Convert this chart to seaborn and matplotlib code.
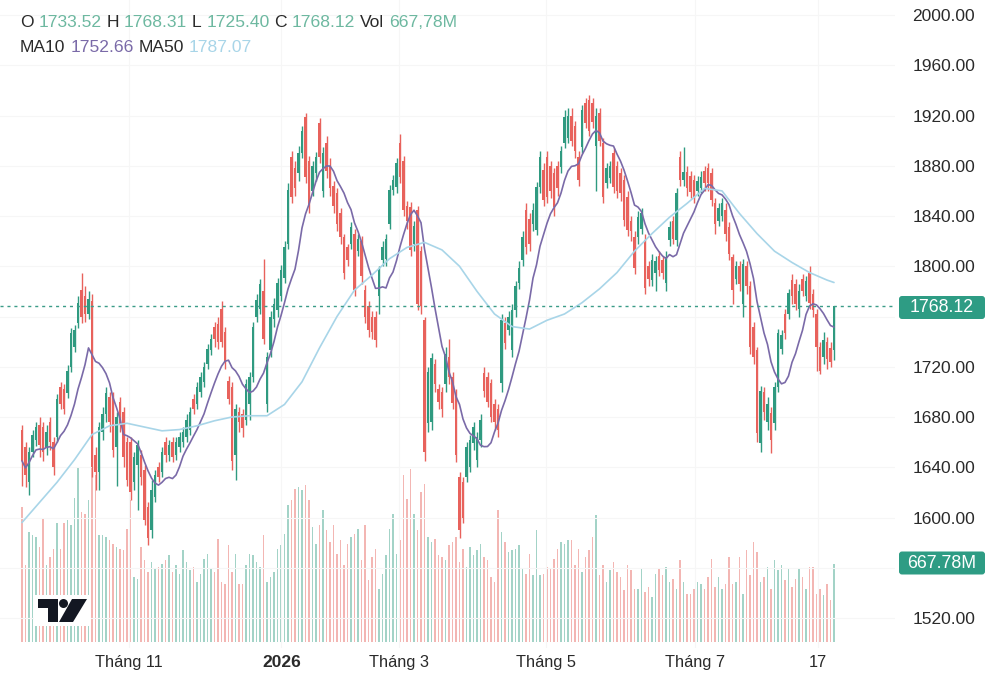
import matplotlib
matplotlib.use("Agg")
import numpy as np
import pandas as pd
import matplotlib.pyplot as plt
import seaborn as sns
from matplotlib.patches import FancyBboxPatch, Polygon, Circle, Rectangle

# ---------------- data ----------------
opens = [1670,1656,1628,1652,1662,1674,1672,1655,1676,1660,1664,1704,1702,1699,1720,1736,1755,1781,1776,1762,
         1772,1650,1636,1668,1682,1696,1696,1656,1692,1684,1660,1660,1628,1642,1650,1638,1608,1590,1616,1640,
         1636,1660,1650,1660,1650,1656,1660,1664,1670,1694,1690,1700,1708,1722,1733,1752,1754,1766,1748,1709,
         1704,1650,1684,1682,1678,1690,1712,1760,1766,1780,1690,1733,1758,1765,1776,1791,1818,1887,1878,1874,
         1890,1919,1884,1860,1874,1914,1860,1898,1880,1864,1858,1842,1823,1815,1818,1826,1812,1820,1781,1768,
         1760,1760,1776,1805,1806,1834,1861,1863,1898,1884,1848,1847,1818,1845,1812,1757,1675,1676,1722,1702,
         1700,1706,1728,1712,1698,1632,1628,1632,1640,1659,1646,1662,1715,1712,1707,1690,1686,1707,1755,1749,
         1733,1765,1787,1805,1845,1838,1834,1829,1863,1877,1887,1880,1874,1880,1879,1898,1902,1920,1912,1887,
         1895,1930,1932,1930,1896,1922,1898,1866,1870,1890,1880,1874,1869,1855,1836,1823,1823,1830,1821,1800,
         1789,1795,1808,1805,1787,1821,1836,1821,1887,1869,1875,1872,1869,1860,1862,1876,1878,1874,1850,1836,
         1840,1845,1831,1807,1790,1800,1770,1800,1784,1752,1733,1659,1700,1676,1683,1675,1704,1734,1762,1762,
         1789,1786,1766,1790,1776,1795,1778,1762,1736,1728,1740,1735,1733.52]
highs = [1674,1660,1656,1670,1676,1680,1676,1674,1680,1664,1698,1708,1706,1721,1751,1753,1776,1795,1784,1780,
         1778,1656,1676,1688,1704,1700,1700,1684,1696,1688,1664,1664,1652,1662,1654,1642,1612,1630,1638,1644,
         1656,1664,1662,1664,1664,1668,1672,1682,1688,1698,1708,1716,1724,1738,1746,1756,1760,1772,1752,1713,
         1708,1690,1688,1686,1710,1716,1756,1778,1790,1806,1732,1764,1775,1791,1801,1820,1866,1892,1884,1896,
         1912,1922,1888,1884,1891,1918,1895,1904,1886,1868,1862,1846,1826,1818,1835,1830,1826,1824,1785,1772,
         1764,1764,1800,1820,1826,1865,1873,1886,1905,1888,1852,1851,1836,1848,1816,1760,1720,1731,1726,1706,
         1704,1736,1742,1716,1702,1636,1632,1660,1666,1676,1668,1682,1720,1716,1710,1694,1690,1762,1760,1764,
         1770,1788,1804,1828,1850,1842,1850,1867,1892,1882,1892,1884,1878,1884,1896,1924,1926,1926,1916,1892,
         1928,1934,1936,1934,1926,1926,1902,1882,1884,1894,1884,1878,1873,1860,1840,1828,1844,1846,1826,1804,
         1810,1808,1812,1808,1812,1836,1840,1862,1892,1895,1880,1876,1873,1872,1876,1880,1882,1878,1854,1850,
         1854,1850,1835,1810,1804,1804,1806,1804,1788,1756,1736,1705,1704,1696,1688,1708,1750,1749,1766,1782,
         1794,1790,1786,1794,1792,1800,1782,1766,1740,1748,1744,1740,1768.31]
lows = [1625,1624,1618,1648,1657,1648,1645,1650,1654,1634,1660,1686,1682,1695,1716,1732,1751,1755,1756,1758,
        1632,1622,1622,1662,1676,1668,1648,1625,1668,1640,1625,1614,1622,1606,1626,1594,1578,1584,1612,1628,
        1632,1644,1645,1644,1646,1652,1656,1660,1666,1682,1686,1696,1704,1718,1729,1736,1734,1736,1718,1690,
        1638,1630,1668,1664,1674,1678,1708,1756,1762,1738,1684,1728,1752,1760,1772,1787,1814,1850,1856,1868,
        1886,1866,1842,1856,1868,1882,1855,1870,1856,1842,1828,1818,1790,1800,1814,1776,1808,1786,1755,1744,
        1742,1736,1762,1800,1800,1830,1857,1858,1866,1840,1830,1808,1812,1765,1762,1645,1668,1670,1700,1686,
        1680,1700,1706,1686,1644,1584,1596,1628,1636,1654,1640,1656,1696,1688,1676,1670,1664,1700,1734,1745,
        1728,1760,1782,1800,1810,1812,1828,1825,1858,1848,1850,1854,1840,1856,1874,1894,1898,1896,1886,1864,
        1890,1910,1904,1910,1860,1896,1850,1862,1866,1858,1854,1852,1832,1824,1820,1794,1818,1826,1778,1784,
        1784,1780,1792,1790,1780,1816,1818,1816,1864,1864,1856,1854,1850,1856,1858,1860,1860,1848,1826,1832,
        1836,1820,1805,1770,1786,1780,1760,1778,1730,1722,1660,1652,1678,1670,1651,1670,1700,1730,1742,1758,
        1770,1765,1760,1776,1772,1766,1760,1717,1714,1722,1718,1720,1725.40]
closes = [1645,1634,1652,1666,1672,1658,1652,1668,1660,1640,1694,1690,1686,1717,1747,1749,1771,1760,1762,1774,
          1640,1636,1672,1682,1699,1676,1654,1680,1674,1648,1630,1620,1648,1658,1632,1598,1584,1622,1634,1632,
          1652,1650,1658,1648,1660,1664,1668,1678,1684,1686,1704,1712,1720,1734,1742,1742,1740,1740,1724,1694,
          1645,1686,1676,1671,1706,1712,1752,1773,1786,1742,1728,1760,1770,1787,1797,1815,1861,1855,1862,1890,
          1908,1871,1847,1880,1887,1887,1890,1876,1862,1848,1834,1823,1795,1805,1831,1781,1822,1792,1760,1749,
          1748,1741,1797,1815,1822,1861,1869,1882,1871,1845,1836,1813,1832,1770,1768,1652,1716,1727,1706,1692,
          1686,1730,1712,1691,1650,1590,1600,1656,1662,1672,1664,1678,1701,1692,1680,1676,1670,1757,1739,1760,
          1765,1784,1799,1823,1815,1818,1845,1863,1887,1853,1855,1860,1847,1862,1892,1919,1920,1900,1892,1869,
          1924,1914,1908,1915,1920,1900,1855,1878,1880,1863,1860,1858,1837,1829,1828,1799,1839,1842,1783,1790,
          1805,1804,1797,1795,1807,1831,1822,1858,1869,1875,1862,1859,1855,1868,1871,1866,1866,1853,1834,1846,
          1850,1826,1810,1781,1800,1786,1802,1784,1736,1728,1667,1701,1684,1690,1662,1704,1747,1745,1747,1779,
          1776,1770,1780,1780,1788,1771,1765,1736,1717,1741,1726,1724,1768.12]
volumes = [1156,659,942,916,899,813,1061,659,728,796,1019,796,1019,1044,1002,1233,1498,1113,1096,1216,
           1515,1430,916,916,899,873,839,813,796,788,967,1216,556,539,813,702,599,685,625,642,
           668,702,745,599,659,582,788,685,616,642,514,582,710,753,625,599,882,514,496,830,
           599,753,496,496,659,753,745,685,642,916,514,556,599,796,830,924,1173,1216,1310,
           1327,1301,1344,1216,984,839,1002,1130,959,856,1002,753,873,659,839,899,924,967,702,1002,
           531,728,796,454,582,745,967,1096,753,873,1430,1224,1481,1096,959,1284,1352,899,856,882,
           745,728,702,830,856,899,685,796,642,813,745,788,839,728,702,556,514,1130,942,856,
           770,788,796,830,625,582,753,574,959,574,582,642,625,710,796,856,839,873,
           873,659,796,599,728,788,899,1087,574,659,514,616,685,599,556,445,659,616,454,454,
           625,428,471,385,582,625,574,642,514,539,454,702,514,411,411,454,514,496,454,556,
           710,471,556,454,496,728,496,514,728,411,788,574,856,770,514,556,642,454,702,616,
           659,531,625,471,539,625,556,454,642,642,411,454,402,496,360,667.78]
ma50_idx = [0, 5, 10, 15, 20, 25, 30, 35, 40, 45, 50, 55, 60, 65, 70, 75, 80, 85, 90, 95, 100, 105, 110, 115,
            120, 125, 130, 135, 140, 145, 150, 155, 160, 165, 170, 175, 180, 185, 190, 195, 200, 205, 210,
            215, 220, 225, 230, 232]
ma50_val = [1596, 1612, 1628, 1646, 1666, 1673, 1675, 1672, 1669, 1670, 1673, 1677, 1680, 1681, 1681, 1690,
            1708, 1735, 1760, 1781, 1793, 1806, 1815, 1819, 1813, 1800, 1780, 1762, 1752, 1750, 1757, 1762,
            1771, 1782, 1795, 1812, 1826, 1839, 1850, 1862, 1860, 1842, 1826, 1812, 1803, 1795, 1789, 1787.07]
price_ticks = [1520, 1560, 1600, 1640, 1680, 1720, 1760, 1800, 1840, 1880, 1920, 1960, 2000]
hidden_ticks = [1560, 1760]   # covered by the value boxes in the reference
tick_pos = [30.6, 74.1, 107.7, 149.7, 192.3, 227.4]
tick_labels = ["Tháng 11", "2026", "Tháng 3", "Tháng 5", "Tháng 7", "17"]
ohlc_label = [("O", "1733.52"), ("H", "1768.31"), ("L", "1725.40"), ("C", "1768.12"), ("Vol", "667,78M")]
ma_label = [("MA10", "1752.66"), ("MA50", "1787.07")]
last_price = "1768.12"
last_volume = "667.78M"

# ---------------- styling ----------------
W, H = 1000, 684
sns.set_theme(style="white")
plt.rcParams["font.family"] = ["Liberation Sans", "DejaVu Sans"]

UP, DOWN = "#2f9a80", "#e8625c"
UP_V, DOWN_V = "#a3d3c7", "#f3b6b3"
MA10_C, MA50_C = "#7a6aa8", "#a8d5e8"
TEAL = "#2e9c84"
VAL_C = "#6db8a0"
TXT = "#2a2a2a"

df = pd.DataFrame({"open": opens, "high": highs, "low": lows, "close": closes, "volume": volumes})
df["idx"] = np.arange(len(df))
df["up"] = df["close"] >= df["open"]
df["ma10"] = df["close"].rolling(10, min_periods=1).mean()

fig = plt.figure(figsize=(W / 100, H / 100), dpi=100)
fig.patch.set_facecolor("white")
pos = [0, (H - 648) / H, 895 / W, 648 / H]
axv = fig.add_axes(pos)
ax = fig.add_axes(pos)
ax.patch.set_alpha(0)

xlim = (-22 / 3.5, (895 - 22) / 3.5)
ylim = (2000 - 633 / 1.25625, 2000 + 15 / 1.25625)

# volume
axv.bar(df["idx"], df["volume"], width=0.5, color=np.where(df["up"], UP_V, DOWN_V), linewidth=0)
axv.set_xlim(*xlim)
axv.set_ylim(-6 * 8.56, 642 * 8.56)
axv.set_xticks([]); axv.set_yticks([])
for s in axv.spines.values():
    s.set_visible(False)

# candles
cols = np.where(df["up"], UP, DOWN)
ax.vlines(df["idx"], df["low"], df["high"], colors=cols, lw=1.0, zorder=2)
body_bottom = np.minimum(df["open"], df["close"])
body_h = np.maximum(np.abs(df["close"] - df["open"]), 0.8)
ax.bar(df["idx"], body_h, bottom=body_bottom, width=0.75, color=cols, linewidth=0, zorder=3)

sns.lineplot(x=df["idx"], y=df["ma10"], ax=ax, color=MA10_C, lw=1.2, zorder=4)
sns.lineplot(x=ma50_idx, y=ma50_val, ax=ax, color=MA50_C, lw=1.2, zorder=4)
ax.axhline(closes[-1], color="#3b9c88", lw=1.0, ls=(0, (2.2, 2.8)), zorder=5)

ax.set_xlim(*xlim)
ax.set_ylim(*ylim)
ax.set_xlabel(""); ax.set_ylabel("")
for s in ax.spines.values():
    s.set_visible(False)

ax.yaxis.tick_right()
ax.set_yticks(price_ticks)
ax.set_yticklabels(["" if v in hidden_ticks else f"{v:.2f}" for v in price_ticks])
ax.tick_params(axis="y", length=0, pad=12.5, labelsize=12.5, labelcolor=TXT)
ax.set_xticks(tick_pos)
ax.set_xticklabels(tick_labels)
ax.tick_params(axis="x", length=0, pad=5, labelsize=11.8, labelcolor=TXT)
lbl = ax.get_xticklabels()[1]
lbl.set_fontweight("bold"); lbl.set_fontsize(12.5)
ax.grid(True, color="#f6f6f6", lw=0.8, zorder=0)

# ---------------- overlay (texts, boxes, logo) ----------------
ov = fig.add_axes([0, 0, 1, 1])
ov.set_xlim(0, W); ov.set_ylim(H, 0); ov.axis("off")
renderer = fig.canvas.get_renderer()

def pieces(x, y, items, size=12.6):
    gap = 0.278 * size * 100 / 72
    for txt, col in items:
        t = ov.text(x, y, txt, color=col, fontsize=size, ha="left", va="baseline")
        x += t.get_window_extent(renderer=renderer).width + gap

row1 = []
for k, v in ohlc_label:
    row1 += [(k, TXT), (v, VAL_C)]
pieces(20, 27, row1)
pieces(20, 52, [(ma_label[0][0], TXT), (ma_label[0][1], MA10_C),
                (ma_label[1][0], TXT), (ma_label[1][1], MA50_C)])

for yc, txt in [(307.5, last_price), (563, last_volume)]:
    ov.add_patch(FancyBboxPatch((899, yc - 11.5), 86, 23, boxstyle="round,pad=0,rounding_size=3",
                                fc=TEAL, ec="none"))
    ov.text(942, yc, txt, color="white", fontsize=12.8, ha="center", va="center")

# TradingView logo
ov.add_patch(Rectangle((34, 595), 57, 31, fc="white", ec="none"))
ov.add_patch(Polygon([(38, 599), (58, 599), (58, 622), (48, 622), (48, 608), (38, 608)],
                     closed=True, fc="#131722", ec="none"))
ov.add_patch(Circle((63.5, 603.5), 4.5, fc="#131722", ec="none"))
ov.add_patch(Polygon([(72, 599), (87, 599), (73, 622), (59, 622)], closed=True, fc="#131722", ec="none"))

fig.savefig("out.png", dpi=100, facecolor="white")
